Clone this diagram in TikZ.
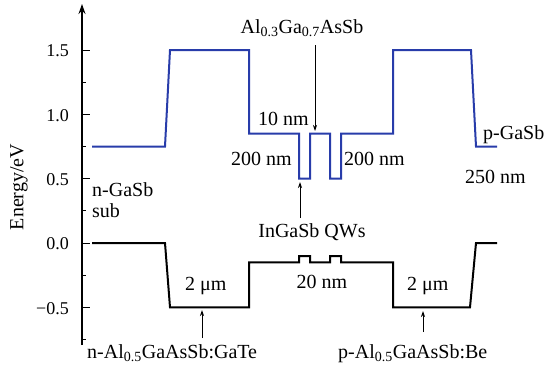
\documentclass[tikz,border=0pt]{standalone}
\usepackage{fontspec}
\setmainfont{Liberation Serif}
\usetikzlibrary{arrows.meta}
\definecolor{cb}{RGB}{40,60,170}
\begin{document}
\begin{tikzpicture}[x=1pt,y=-1pt,
  lbl/.style={inner sep=0pt,font=\fontsize{20}{22}\selectfont},
  ticklbl/.style={inner sep=0pt,anchor=east,font=\fontsize{18}{20}\selectfont},
  band/.style={line width=2pt,line join=miter},
  ptr/.style={line width=0.8pt,-{Stealth[length=6pt,width=4pt]}},
]
\fill[white] (0,0) rectangle (550,368);
\useasboundingbox (0,0) rectangle (550,368);
% axis
\coordinate (ab) at (82,345);
\coordinate (at) at (82,4);
\draw[line width=1.2pt,-{Stealth[length=10pt,width=7pt]}] (ab) -- (at);
\foreach \e/\t in {1.5/1.5,1.0/1.0,0.5/0.5,0.0/0.0,-0.5/−0.5}{
  \pgfmathsetmacro\yy{243-\e*128.67}
  \draw[line width=1pt] (82,\yy) -- (90,\yy);
  \node[ticklbl] at (69,\yy+1) {\t};
}
\foreach \e in {1.25,0.75,0.25,-0.25,-0.75}{
  \pgfmathsetmacro\yy{243-\e*128.67}
  \draw[line width=1pt] (82,\yy) -- (86,\yy);
}
\node[lbl,rotate=90] (ylab) at (19,187) {Energy/eV};
% conduction band
\draw[band,cb] (92,146.5) -- (165,146.5) -- (170,50) -- (249,50) -- (249,133.6)
  -- (299,133.6) -- (299,178.7) -- (310,178.7) -- (310,133.6) -- (330,133.6)
  -- (330,178.7) -- (341,178.7) -- (341,133.6) -- (393,133.6) -- (393,50)
  -- (471,50) -- (476,146.5) -- (497,146.5);
% valence band
\draw[band,black] (92,243) -- (165,243) -- (170,307.3) -- (249,307.3) -- (249,262.3)
  -- (299,262.3) -- (299,256) -- (310,256) -- (310,262.3) -- (330,262.3)
  -- (330,256) -- (341,256) -- (341,262.3) -- (393,262.3) -- (393,307.3)
  -- (470,307.3) -- (476,243) -- (497,243);
% labels
\node[lbl,anchor=base west] (nsub) at (92,196) {n-GaSb};
\node[lbl,anchor=base west] (sub) at (92,217) {sub};
\node[lbl,anchor=base] (algas) at (302,33) {Al\textsubscript{0.3}Ga\textsubscript{0.7}AsSb};
\node[lbl,anchor=base west] (ten) at (258,125) {10 nm};
\node[lbl,anchor=base east] (twoL) at (292,165) {200 nm};
\node[lbl,anchor=base west] (twoR) at (344,165) {200 nm};
\node[lbl,anchor=base] (qw) at (312,237) {InGaSb QWs};
\node[lbl,anchor=base] (twenty) at (322,288) {20 nm};
\node[lbl,anchor=base west] (umL) at (185,290) {2 μm};
\node[lbl,anchor=base west] (umR) at (407,290) {2 μm};
\node[lbl,anchor=base west] (pgasb) at (483,139) {p-GaSb};
\node[lbl,anchor=base west] (tf) at (465,183) {250 nm};
\node[lbl,anchor=base west] (ncl) at (87,358) {n-Al\textsubscript{0.5}GaAsSb:GaTe};
\node[lbl,anchor=base west] (pcl) at (338,358) {p-Al\textsubscript{0.5}GaAsSb:Be};
% pointers
\coordinate (a1s) at (315,45);  \coordinate (a1e) at (315,131);
\coordinate (a2s) at (300,218); \coordinate (a2e) at (300,182);
\coordinate (a3s) at (202,338); \coordinate (a3e) at (202,310);
\coordinate (a4s) at (423,332); \coordinate (a4e) at (423,311);
\draw[ptr] (a1s) -- (a1e);
\draw[ptr] (a2s) -- (a2e);
\draw[ptr] (a3s) -- (a3e);
\draw[ptr] (a4s) -- (a4e);
\end{tikzpicture}
\end{document}
